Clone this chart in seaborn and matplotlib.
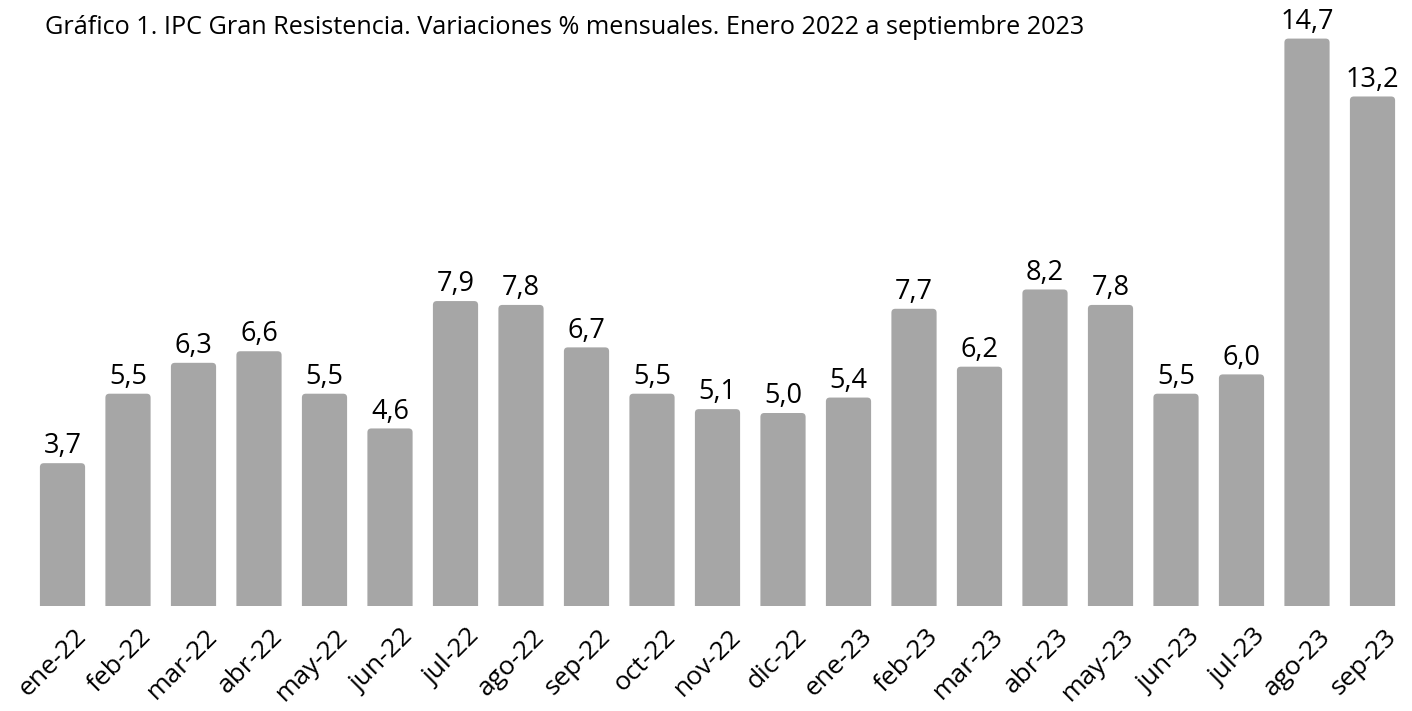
import matplotlib
matplotlib.use("Agg")
import matplotlib.pyplot as plt
import matplotlib.transforms as mtransforms
import seaborn as sns
import pandas as pd
from matplotlib.patches import FancyBboxPatch

# Data
meses = ["ene-22", "feb-22", "mar-22", "abr-22", "may-22", "jun-22", "jul-22",
         "ago-22", "sep-22", "oct-22", "nov-22", "dic-22", "ene-23", "feb-23",
         "mar-23", "abr-23", "may-23", "jun-23", "jul-23", "ago-23", "sep-23"]
variacion = [3.7, 5.5, 6.3, 6.6, 5.5, 4.6, 7.9, 7.8, 6.7, 5.5, 5.1, 5.0, 5.4,
             7.7, 6.2, 8.2, 7.8, 5.5, 6.0, 14.7, 13.2]

df = pd.DataFrame({"mes": meses, "var": variacion})

sns.set_theme(style="white")
plt.rcParams["font.family"] = ["Open Sans", "DejaVu Sans"]

fig = plt.figure(figsize=(14.12, 7.11), dpi=100)
ax = fig.add_axes([29.75 / 1412, 105 / 711, 1375.5 / 1412, 579 / 711])

sns.barplot(data=df, x="mes", y="var", color="#A6A6A6", saturation=1,
            width=0.69, ax=ax)

ax.set_xlim(-0.5, len(meses) - 0.5)
ax.set_ylim(0, 15)

# swap bars for rounded-top versions (bottom corners clipped away below 0)
for p in list(ax.patches):
    x, w, h = p.get_x(), p.get_width(), p.get_height()
    rb = FancyBboxPatch((x, -0.3), w, h + 0.3,
                        boxstyle="round,pad=0,rounding_size=0.06",
                        mutation_aspect=1.7, facecolor="#A6A6A6",
                        edgecolor="none", clip_on=True)
    p.remove()
    ax.add_patch(rb)
    ax.annotate(f"{h:.1f}".replace(".", ","), (x + w / 2, h),
                xytext=(0, 2), textcoords="offset points",
                ha="center", va="bottom", fontsize=19.5, color="black")

sns.despine(ax=ax, left=True, bottom=True)
ax.set_yticks([])
ax.set_xlabel("")
ax.set_ylabel("")
ax.tick_params(axis="x", length=0, pad=13)
shift = mtransforms.ScaledTranslation(8 / 72, 0, fig.dpi_scale_trans)
for lab in ax.get_xticklabels():
    lab.set_rotation(45)
    lab.set_ha("right")
    lab.set_rotation_mode("anchor")
    lab.set_fontsize(19)
    lab.set_color("black")
    lab.set_transform(lab.get_transform() + shift)

fig.text(45 / 1412, 1 - 28 / 711, "Gráfico 1. IPC Gran Resistencia. Variaciones % mensuales. Enero 2022 a septiembre 2023",
         fontsize=18.2, color="black", va="center", ha="left")

fig.savefig("out.png", dpi=100)
